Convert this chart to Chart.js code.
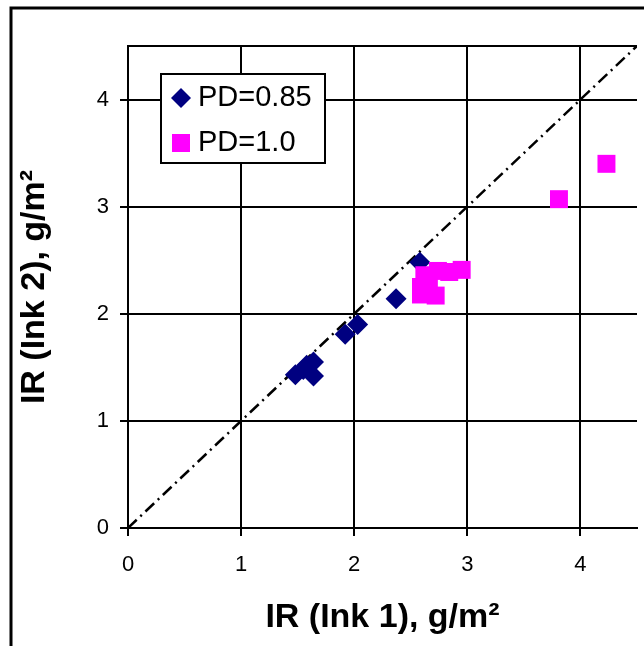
<!DOCTYPE html>
<html>
<head>
<meta charset="utf-8">
<script src="https://cdn.jsdelivr.net/npm/chart.js@4.4.1/dist/chart.umd.min.js"></script>
<style>
    html, body { margin: 0; padding: 0; background: #fff; overflow: hidden; }
    canvas { display: block; }
</style>
</head>
<body>
<canvas id="grafico01" width="644" height="646"></canvas>
<script>
(function () {

    // IR (Ink 1) / IR (Ink 2), g/m2
    var irTinta1PD085 = [1.48, 1.55, 1.58, 1.64, 1.64, 1.92, 2.03, 2.37, 2.58];
    var irTinta2PD085 = [1.43, 1.48, 1.52, 1.42, 1.55, 1.81, 1.90, 2.14, 2.48];
    var irTinta1PD10 = [2.59, 2.72, 2.59, 2.66, 2.62, 2.74, 2.84, 2.95, 3.81, 4.23];
    var irTinta2PD10 = [2.18, 2.17, 2.25, 2.32, 2.36, 2.40, 2.39, 2.41, 3.07, 3.40];
    var etiquetas = ['PD=0.85', 'PD=1.0'];

    var ticksX = [0, 1, 2, 3, 4];
    var ticksY = [0, 1, 2, 3, 4];
    var limite = 4.5;

    var fuente = 'Liberation Sans, Arial, sans-serif';

    function puntos(xs, ys) {
        return xs.map(function (x, i) { return { x: x, y: ys[i] }; });
    }

    // fondo blanco y marco exterior
    var marco = {
        id: 'marco',
        beforeDraw: function (chart) {
            var c = chart.ctx;
            c.save();
            c.fillStyle = '#fff';
            c.fillRect(0, 0, chart.width, chart.height);
            c.strokeStyle = '#000';
            c.lineWidth = 3;
            c.strokeRect(11, 8, 700, 700);
            c.restore();
        }
    };

    // leyenda con recuadro dentro del área del gráfico
    var leyenda = {
        id: 'leyenda',
        afterDraw: function (chart) {
            var c = chart.ctx;
            c.save();
            c.fillStyle = '#fff';
            c.fillRect(161, 74, 164, 89);
            c.strokeStyle = '#000';
            c.lineWidth = 2;
            c.strokeRect(161, 74, 164, 89);

            c.font = '29px ' + fuente;
            c.textBaseline = 'middle';
            c.textAlign = 'left';
            for (var i = 0; i < 2; i++) {
                var ds = chart.data.datasets[i];
                var y = 98 + i * 45;
                c.fillStyle = ds.backgroundColor;
                c.beginPath();
                if (ds.pointStyle === 'rectRot') {
                    c.moveTo(171, y); c.lineTo(181, y - 10);
                    c.lineTo(191, y); c.lineTo(181, y + 10);
                    c.closePath();
                    c.fill();
                } else {
                    c.fillRect(172, y - 9, 18, 18);
                }
                c.fillStyle = '#000';
                c.fillText(ds.label, 198, y);
            }
            c.restore();
        }
    };

    function grafico01() {
        var ctx = document.getElementById('grafico01').getContext('2d');
        var grafico = new Chart(ctx, {
            type: 'scatter',
            data: {
                datasets: [{
                    label: etiquetas[0],
                    data: puntos(irTinta1PD085, irTinta2PD085),
                    pointStyle: 'rectRot',
                    pointRadius: 10.5,
                    borderWidth: 0,
                    backgroundColor: '#000080',
                    borderColor: '#000080',
                    order: 2
                }, {
                    label: etiquetas[1],
                    data: puntos(irTinta1PD10, irTinta2PD10),
                    pointStyle: 'rect',
                    pointRadius: 12.7,
                    borderWidth: 0,
                    backgroundColor: '#FF00FF',
                    borderColor: '#FF00FF',
                    order: 1
                }, {
                    label: '1:1',
                    data: [{ x: 0, y: 0 }, { x: limite, y: limite }],
                    showLine: true,
                    pointRadius: 0,
                    borderColor: '#000',
                    borderWidth: 2.5,
                    borderDash: [12, 5, 2, 5],
                    fill: false,
                    order: 3
                }]
            },
            options: {
                responsive: false,
                animation: false,
                events: [],
                layout: {
                    autoPadding: false,
                    padding: { left: 0, right: 7, top: 46, bottom: 0 }
                },
                plugins: {
                    legend: { display: false },
                    tooltip: { enabled: false }
                },
                scales: {
                    x: {
                        type: 'linear',
                        min: 0,
                        max: limite,
                        afterBuildTicks: function (s) {
                            s.ticks = ticksX.map(function (v) { return { value: v }; });
                        },
                        afterFit: function (s) {
                            s.height = 118;
                            s.paddingLeft = 0;
                            s.paddingRight = 0;
                        },
                        grid: { color: '#000', lineWidth: 2, tickLength: 8 },
                        border: { color: '#000', width: 2 },
                        ticks: {
                            padding: 16,
                            color: '#000',
                            maxRotation: 0,
                            font: { family: fuente, size: 22 }
                        },
                        title: {
                            display: true,
                            text: 'IR (Ink 1), g/m²',
                            color: '#000',
                            padding: { top: 0, bottom: 8 },
                            font: { family: fuente, size: 34, weight: 'bold' }
                        }
                    },
                    y: {
                        type: 'linear',
                        min: 0,
                        max: limite,
                        afterBuildTicks: function (s) {
                            s.ticks = ticksY.concat([limite]).map(function (v) { return { value: v }; });
                        },
                        afterFit: function (s) {
                            s.width = 128;
                            s.paddingTop = 0;
                            s.paddingBottom = 0;
                        },
                        grid: {
                            color: '#000',
                            lineWidth: 2,
                            tickLength: 8,
                            tickColor: function (c) {
                                return (c.tick && c.tick.value === limite) ? 'rgba(0,0,0,0)' : '#000';
                            }
                        },
                        border: { color: '#000', width: 2 },
                        ticks: {
                            padding: 11,
                            color: '#000',
                            font: { family: fuente, size: 22 },
                            callback: function (v) {
                                return ticksY.indexOf(v) >= 0 ? String(v) : '';
                            }
                        },
                        title: {
                            display: true,
                            text: 'IR (Ink 2), g/m²',
                            color: '#000',
                            padding: { top: 14, bottom: 0 },
                            font: { family: fuente, size: 34, weight: 'bold' }
                        }
                    }
                }
            },
            plugins: [marco, leyenda]
        });
    }

    grafico01();

})();
</script>
</body>
</html>
